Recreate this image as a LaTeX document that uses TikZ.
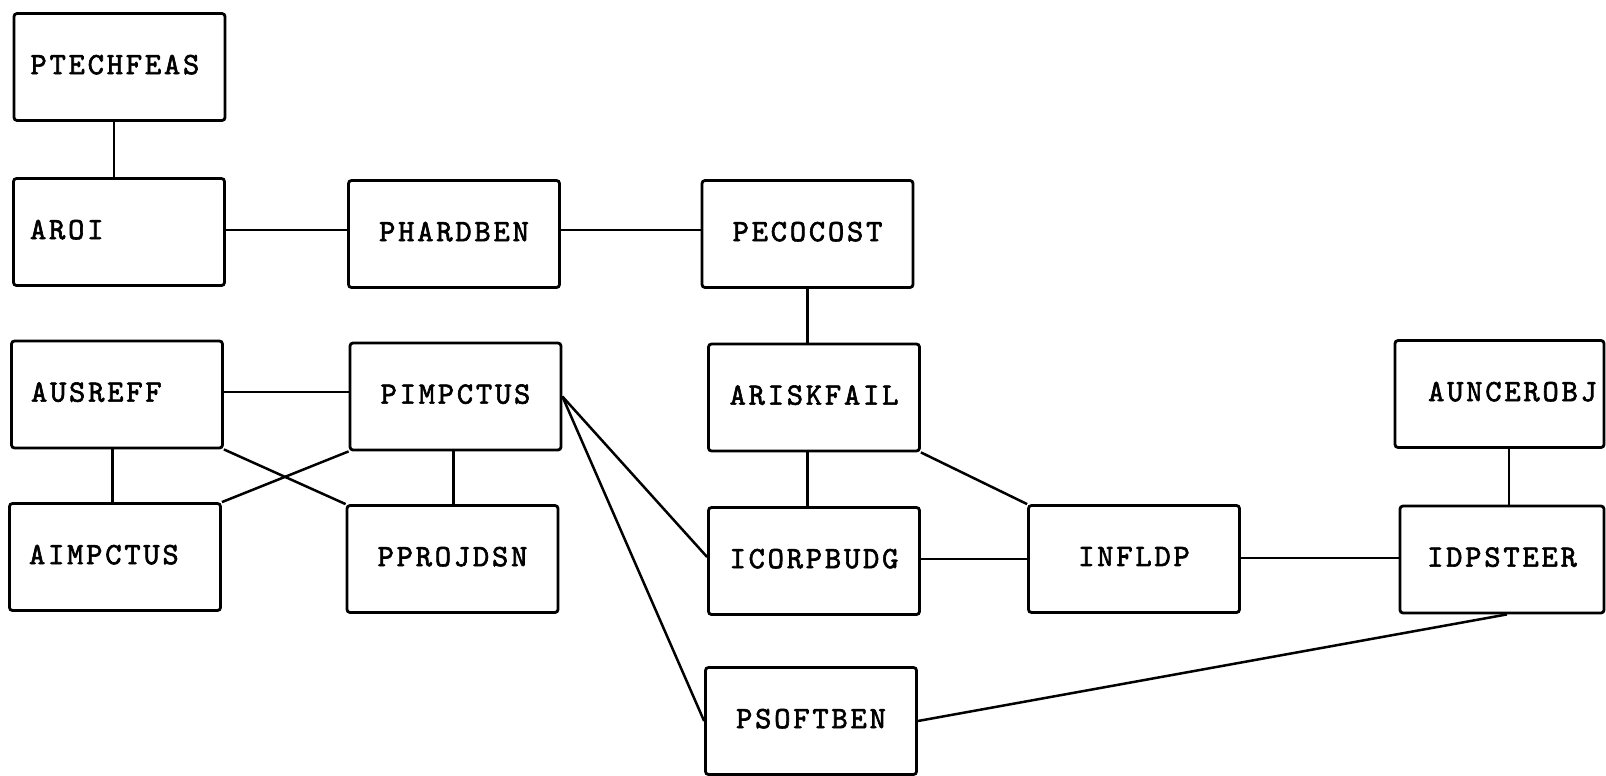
\documentclass[tikz,border=0pt]{standalone}
\usepackage{fontspec}
\newfontfamily\twfont{lmmono10-regular.otf}[LetterSpace=9,FakeBold=2]
\newcommand\boxfont{\twfont\fontsize{15.5pt}{18pt}\selectfont}
\newcommand\liftxt[1]{\raisebox{2.5pt}{#1}}
\begin{document}
\begin{tikzpicture}[x=0.5pt,y=-0.5pt,
  box/.style={draw, line width=1.4pt, rounded corners=1.5pt, minimum width=105.5pt, minimum height=53.5pt, font=\boxfont, inner sep=0pt},
  lbox/.style={box, text width=89pt, align=left},
  link/.style={line width=1.25pt}]
\fill[white] (0,0) rectangle (1606,776);
\useasboundingbox (0,0) rectangle (1606,776);

\node[lbox] (ptech) at (119.5,67) {\liftxt{PTECHFEAS}};
\node[lbox] (aroi) at (119,232) {\liftxt{AROI}};
\node[box] (phard) at (454,234) {\liftxt{PHARDBEN}};
\node[box] (pecocost) at (807.5,234) {\liftxt{PECOCOST}};
\node[lbox, text width=86pt] (ausreff) at (117,394.5) {\liftxt{AUSREFF}};
\node[box] (pimpctus) at (455.5,396.5) {\liftxt{PIMPCTUS}};
\node[box] (ariskfail) at (814,397.5) {\liftxt{ARISKFAIL}};
\node[box, minimum width=104.5pt] (auncerobj) at (1499.5,394) {\liftxt{\hspace*{13pt}AUNCEROBJ}};
\node[lbox, text width=86pt] (aimpctus) at (115,557) {\liftxt{AIMPCTUS}};
\node[box] (pprojdsn) at (452.5,559) {\liftxt{PPROJDSN}};
\node[box] (icorp) at (814,561) {\liftxt{ICORPBUDG}};
\node[box] (infldp) at (1134,559) {\liftxt{INFLDP}};
\node[box, minimum width=102pt] (idpsteer) at (1502,559.5) {\liftxt{IDPSTEER}};
\node[box] (psoftben) at (811,721) {\liftxt{PSOFTBEN}};

\draw[link] ([xshift=-2.75pt]ptech.south) -- ([xshift=-2.75pt]ptech.south |- aroi.north);
\draw[link] ([yshift=1pt]aroi.east) -- ([yshift=1pt]aroi.east -| phard.west);
\draw[link] ([yshift=2pt]phard.east) -- ([yshift=2pt]phard.east -| pecocost.west);
\draw[link] (pecocost.south) -- (pecocost.south |- ariskfail.north);
\draw[link] ([xshift=-3.25pt]ariskfail.south) -- ([xshift=-3.25pt]ariskfail.south |- icorp.north);
\draw[link] ([yshift=1.25pt]ausreff.east) -- ([yshift=1.25pt]ausreff.east -| pimpctus.west);
\draw[link] ([xshift=-2.25pt]ausreff.south) -- ([xshift=-2.25pt]ausreff.south |- aimpctus.north);
\draw[link] ([xshift=-1pt]pimpctus.south) -- ([xshift=-1pt]pimpctus.south |- pprojdsn.north);
\draw[link] (ausreff.south east) -- (pprojdsn.north west);
\draw[link] (aimpctus.north east) -- (pimpctus.south west);
\draw[link] (pimpctus.east) -- ([yshift=2pt]icorp.west);
\draw[link] (pimpctus.east) -- (psoftben.west);
\draw[link] (ariskfail.south east) -- (infldp.north west);
\draw[link] (icorp.east |- infldp.west) -- (infldp.west);
\draw[link] ([yshift=0.5pt]infldp.east) -- ([yshift=0.5pt]infldp.east -| idpsteer.west);
\draw[link] ([xshift=4.75pt]auncerobj.south) -- ([xshift=4.75pt]auncerobj.south |- idpsteer.north);
\draw[link] (psoftben.east) -- ([xshift=2.5pt]idpsteer.south);
\end{tikzpicture}
\end{document}
